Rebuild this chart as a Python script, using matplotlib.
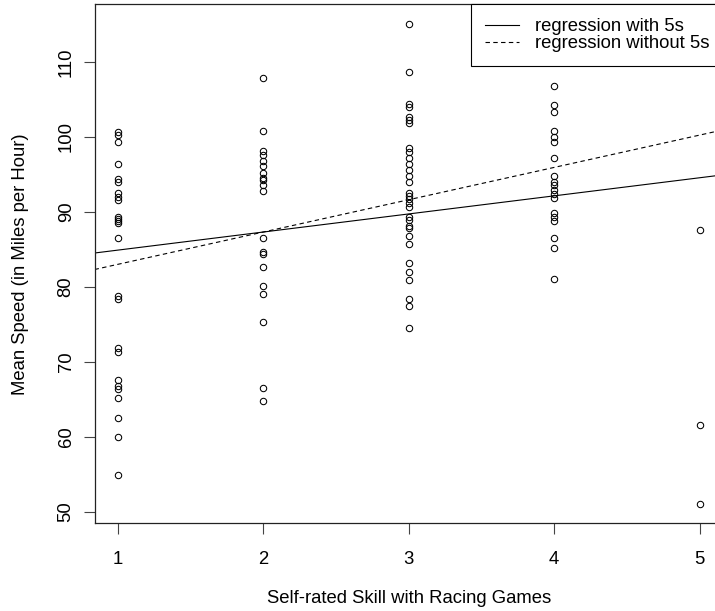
import numpy as np
import matplotlib
matplotlib.use("Agg")
import matplotlib.pyplot as plt

# Mean speed (mph) per self-rated skill level
speed_skill1 = [100.6, 100.2, 99.3, 96.4, 94.4, 94.0, 92.5, 92.0, 91.6, 89.3, 89.0, 88.7, 88.5,
                86.5, 78.7, 78.4, 71.8, 71.3, 67.5, 66.7, 66.4, 65.1, 62.5, 60.0, 54.9]
speed_skill2 = [107.9, 100.7, 98.1, 97.5, 96.8, 96.1, 95.1, 94.5, 94.2, 93.5, 92.8, 86.5, 84.6,
                84.3, 82.6, 80.1, 79.0, 75.3, 66.5, 64.7]
speed_skill3 = [115.1, 108.7, 104.3, 104.0, 102.6, 102.2, 101.8, 98.5, 97.9, 97.1, 96.4, 95.5,
                94.7, 93.9, 92.5, 92.1, 91.7, 91.2, 90.6, 89.3, 88.9, 88.1, 87.8, 86.8, 85.7,
                83.2, 82.0, 80.9, 78.4, 77.4, 74.5]
speed_skill4 = [106.7, 104.2, 103.3, 100.7, 100.0, 99.3, 97.1, 94.7, 94.0, 93.6, 92.9, 92.4,
                91.8, 89.8, 89.3, 88.7, 86.5, 85.1, 81.0]
speed_skill5 = [87.6, 61.5, 51.0]

skill_levels = [1, 2, 3, 4, 5]
groups = [speed_skill1, speed_skill2, speed_skill3, speed_skill4, speed_skill5]

x = np.concatenate([np.full(len(g), lvl) for lvl, g in zip(skill_levels, groups)])
y = np.concatenate(groups)

# two fits: everything, and everything except skill 5
m_all, b_all = np.polyfit(x, y, 1)
keep = x < 5
m_no5, b_no5 = np.polyfit(x[keep], y[keep], 1)

plt.rcParams["font.family"] = ["Liberation Sans", "DejaVu Sans"]
fs = 13.3

fig = plt.figure(figsize=(7.15, 6.11), dpi=100)
ax = fig.add_axes([94.5 / 715, 87.7 / 611, 628.5 / 715, 519 / 611])

ax.plot(x, y, linestyle="none", marker="o", markersize=4.6, markerfacecolor="none",
        markeredgecolor="black", markeredgewidth=0.75)

ax.axline((0, b_all), slope=m_all, color="black", lw=0.8, label="regression with 5s")
ax.axline((0, b_no5), slope=m_no5, color="black", lw=0.8, linestyle=(0, (4, 3)),
          label="regression without 5s")

# R style 4% padding around the data
xr = x.max() - x.min()
yr = y.max() - y.min()
ax.set_xlim(x.min() - 0.04 * xr, x.max() + 0.04 * xr)
ax.set_ylim(y.min() - 0.04 * yr, y.max() + 0.04 * yr)

ax.set_xticks(skill_levels)
ax.set_yticks(np.arange(50, 111, 10))
ax.tick_params(axis="both", direction="out", length=7.8, width=0.8, labelsize=fs, color="#444444")
ax.tick_params(axis="x", pad=12)
ax.tick_params(axis="y", pad=6.5, labelrotation=90)
for lab in ax.get_yticklabels():
    lab.set_verticalalignment("center")

for side in ax.spines.values():
    side.set_linewidth(0.9)
    side.set_color("#222222")

ax.set_xlabel("Self-rated Skill with Racing Games", fontsize=fs)
ax.set_ylabel("Mean Speed (in Miles per Hour)", fontsize=fs)
ax.xaxis.set_label_coords(0.5, -0.128)
ax.yaxis.set_label_coords(-0.104, 0.5)

# legend sits in the top right corner, its right side runs past the cropped edge
leg = ax.legend(loc="upper right", borderaxespad=0, fontsize=fs, frameon=True, fancybox=False,
                framealpha=1, edgecolor="black", handlelength=1.85, handletextpad=0.85,
                borderpad=0.75, labelspacing=0.0)
leg.get_frame().set_linewidth(0.8)

fig.savefig("out.png", dpi=100)
